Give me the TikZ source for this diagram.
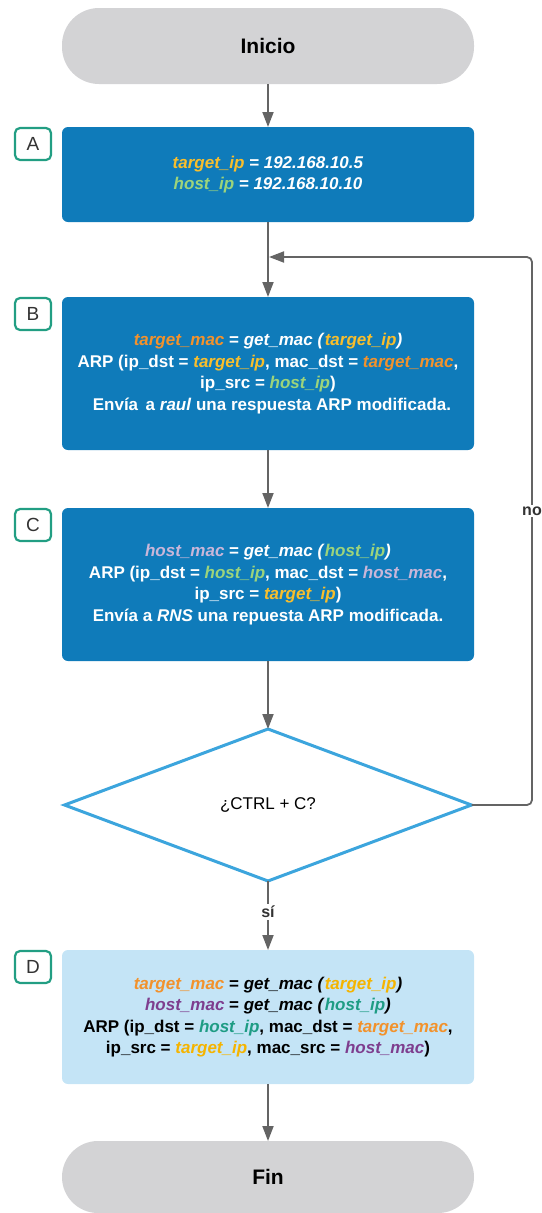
\documentclass[tikz,border=0pt]{standalone}
\usepackage{fontspec}
\setmainfont{Liberation Sans}
\usetikzlibrary{arrows.meta,shapes.geometric}
\definecolor{boxblue}{HTML}{0F7BBA}
\definecolor{lightbox}{HTML}{C4E4F6}
\definecolor{termgray}{HTML}{D3D3D5}
\definecolor{tagteal}{HTML}{229E83}
\definecolor{linegray}{HTML}{646464}
\definecolor{decblue}{HTML}{3CA5DD}
\definecolor{cyel}{HTML}{F8BE2C}
\definecolor{cgreen}{HTML}{9CD47C}
\definecolor{corange}{HTML}{F2922C}
\definecolor{clav}{HTML}{C9B6D9}
\definecolor{dorange}{HTML}{F2922C}
\definecolor{dyel}{HTML}{F5B400}
\definecolor{dpurple}{HTML}{7E3E8E}
\definecolor{dteal}{HTML}{1E9C84}
\newcommand{\vv}[2]{\textcolor{#1}{\textbf{\textit{#2}}}}
\begin{document}
\begin{tikzpicture}[x=1pt,y=-1pt,
  terminal/.style={fill=termgray, rounded corners=37pt, minimum width=412pt, font=\fontsize{21}{25}\selectfont\bfseries, inner sep=0pt, outer sep=0pt},
  process/.style={fill=boxblue, rounded corners=6pt, minimum width=412pt, text=white, align=center, font=\fontsize{17}{21.5}\selectfont\bfseries, inner sep=0pt, outer sep=0pt},
  lightproc/.style={process, fill=lightbox, text=black},
  tag/.style={draw=tagteal, line width=2.2pt, rounded corners=5pt, minimum width=36pt, minimum height=32pt, inner sep=0pt, text=black!80, font=\fontsize{19}{22}\selectfont},
  decision/.style={diamond, draw=decblue, line width=3pt, minimum width=407pt, minimum height=152pt, inner sep=0pt, outer sep=0pt, font=\fontsize{17}{20}\selectfont},
  flow/.style={draw=linegray, line width=1.8pt, -{Triangle[width=11pt,length=15pt]}},
  lbl/.style={fill=white, inner sep=2pt, font=\fontsize{16}{19}\selectfont\bfseries, text=black!80}
]
\useasboundingbox (0,0) rectangle (541,1213);

\node[terminal, minimum height=76pt] (start) at (268,46) {Inicio};

\node[process, minimum height=95pt] (a) at (268,174.5)
  {\vv{cyel}{target\_ip} \textit{= 192.168.10.5}\\
   \vv{cgreen}{host\_ip} \textit{= 192.168.10.10}};
\node[tag] (ta) at (33,144) {A};

\node[process, minimum height=153pt] (b) at (268,373.5)
  {\vv{corange}{target\_mac} = \textit{get\_mac (}\vv{cyel}{target\_ip}\textit{)}\\
   ARP (ip\_dst = \vv{cyel}{target\_ip}, mac\_dst = \vv{corange}{target\_mac},\\
   ip\_src = \vv{cgreen}{host\_ip})\\
   \hspace*{8pt}Envía\, a \textit{raul} una respuesta ARP modificada.};
\node[tag] (tb) at (33,314) {B};

\node[process, minimum height=153pt] (c) at (268,584.5)
  {\vv{clav}{host\_mac} = \textit{get\_mac (}\vv{cgreen}{host\_ip}\textit{)}\\
   ARP (ip\_dst = \vv{cgreen}{host\_ip}, mac\_dst = \vv{clav}{host\_mac},\\
   ip\_src = \vv{cyel}{target\_ip})\\
   Envía a \textit{RNS} una repuesta ARP modificada.};
\node[tag] (tc) at (33,525) {C};

\node[decision] (dec) at (268,805) {¿CTRL + C?};

\node[lightproc, minimum height=134pt] (d) at (268,1017)
  {\vv{dorange}{target\_mac} = \textit{get\_mac (}\vv{dyel}{target\_ip}\textit{)}\\
   \vv{dpurple}{host\_mac} = \textit{get\_mac (}\vv{dteal}{host\_ip}\textit{)}\\
   ARP (ip\_dst = \vv{dteal}{host\_ip}, mac\_dst = \vv{dorange}{target\_mac},\\
   ip\_src = \vv{dyel}{target\_ip}, mac\_src = \vv{dpurple}{host\_mac})};
\node[tag] (td) at (33,967) {D};

\node[terminal, minimum height=72pt, rounded corners=36pt] (end) at (268,1177) {Fin};

\draw[flow] (start) -- (a);
\draw[flow] (a) -- (b);
\draw[flow] (b) -- (c);
\draw[flow] (c) -- (dec);
\draw[flow] (dec) -- node[lbl, pos=0.45] (si) {sí} (d);
\draw[flow] (d) -- (end);

\coordinate (loopcorner) at (532,257);
\coordinate (loopend) at (269,257);
\draw[flow, rounded corners=5pt] (dec.east) -| (loopcorner) -- (loopend);
\node[lbl] (no) at (532,511) {no};
\end{tikzpicture}
\end{document}
